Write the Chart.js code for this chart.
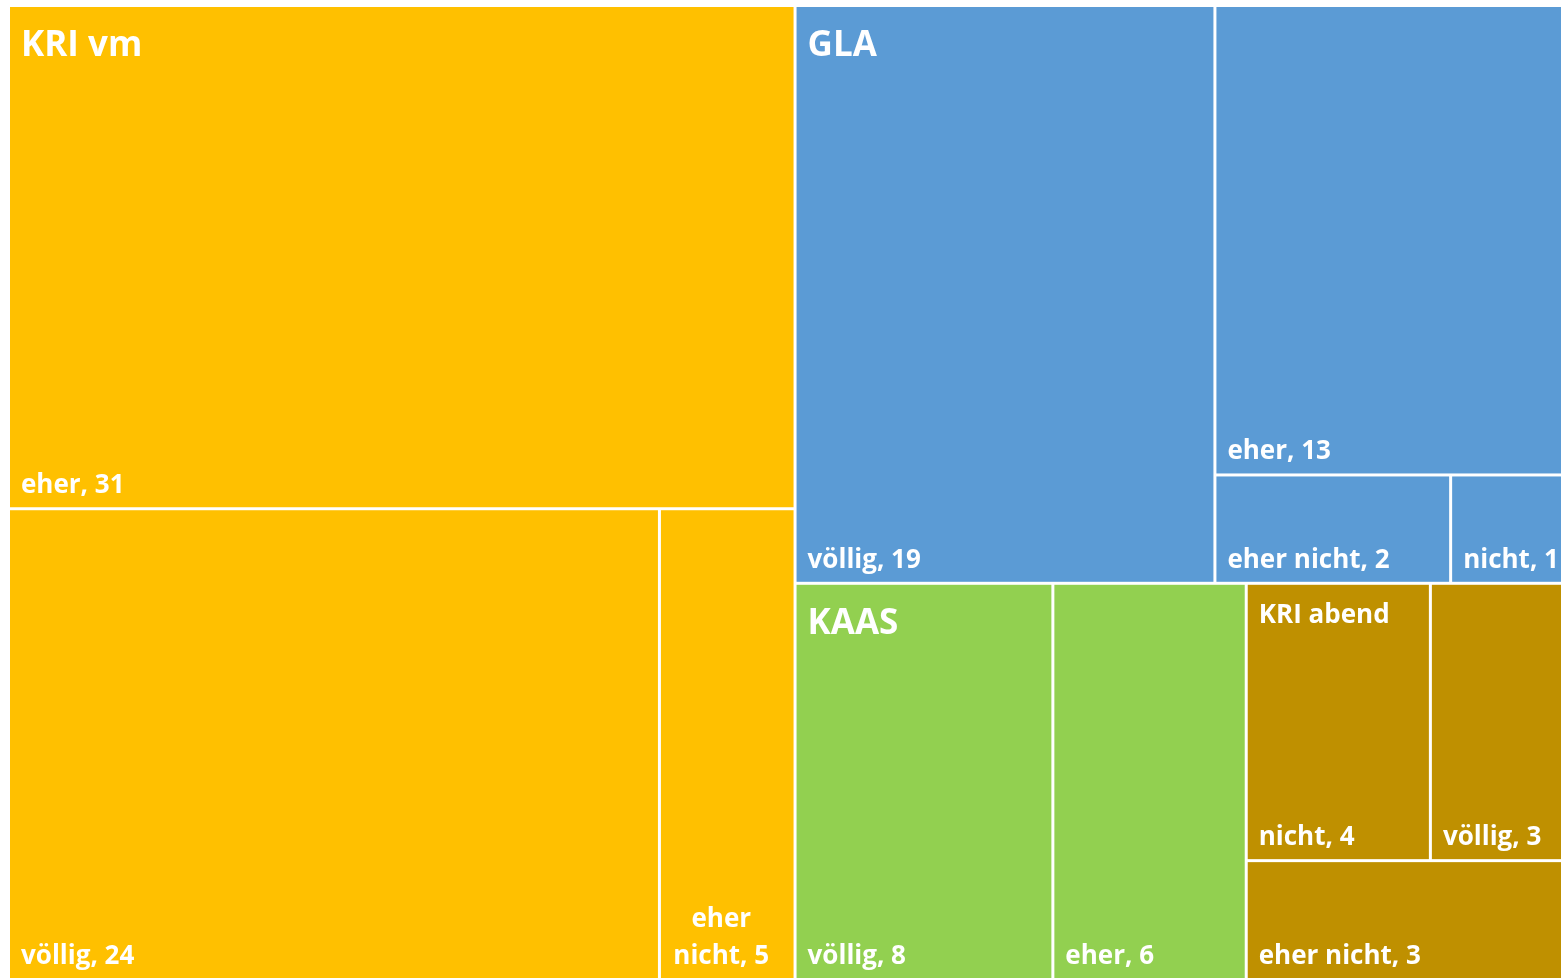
<!DOCTYPE html>
<html>
<head>
<meta charset="utf-8">
<script src="https://cdn.jsdelivr.net/npm/chart.js@4.4.1/dist/chart.umd.min.js"></script>
<style>
  html, body { margin: 0; padding: 0; background: #fff; overflow: hidden; }
  #wrap { position: absolute; left: 0; top: 0; width: 1580px; height: 990px; }
</style>
</head>
<body>
<div id="wrap"><canvas id="TreeChart"></canvas></div>
<script>
// Daten aus dem Bild
const groupNames  = ['KRI vm', 'GLA', 'KAAS', 'KRI abend'];
const groupColors = ['#FFC000', '#5B9BD5', '#92D050', '#BF9000'];
const leafGroup   = ['KRI vm', 'KRI vm', 'KRI vm', 'GLA', 'GLA', 'GLA', 'GLA', 'KAAS', 'KAAS', 'KRI abend', 'KRI abend', 'KRI abend'];
const leafAnswer  = ['eher', 'völlig', 'eher nicht', 'völlig', 'eher', 'eher nicht', 'nicht', 'völlig', 'eher', 'nicht', 'völlig', 'eher nicht'];
const leafValues  = [31, 24, 5, 19, 13, 2, 1, 8, 6, 4, 3, 3];

const FONT = '"Open Sans", Lato, sans-serif';

// squarified treemap in einem Rechteck (einheiten: frei)
function squarify(values, x, y, w, h) {
  const total = values.reduce((a, b) => a + b, 0);
  const areas = values.map(v => v * w * h / total);
  const out = [];
  let row = [];
  const worst = (r, side) => {
    const s = r.reduce((a, b) => a + b, 0);
    const mx = Math.max(...r), mn = Math.min(...r);
    return Math.max(side * side * mx / (s * s), (s * s) / (side * side * mn));
  };
  const place = (r) => {
    const s = r.reduce((a, b) => a + b, 0);
    if (w >= h) {
      const cw = s / h;
      let cy = y;
      r.forEach(a => { const ch = a / cw; out.push({ x: x, y: cy, w: cw, h: ch }); cy += ch; });
      x += cw; w -= cw;
    } else {
      const rh = s / w;
      let cx = x;
      r.forEach(a => { const rw = a / rh; out.push({ x: cx, y: y, w: rw, h: rh }); cx += rw; });
      y += rh; h -= rh;
    }
  };
  let i = 0;
  while (i < areas.length) {
    const side = Math.min(w, h);
    if (row.length === 0 || worst(row.concat([areas[i]]), side) <= worst(row, side)) {
      row.push(areas[i]); i++;
    } else {
      place(row); row = [];
    }
  }
  if (row.length) place(row);
  return out;
}

const treemapPlugin = {
  id: 'treemap',
  afterDatasetsDraw(chart) {
    const ctx = chart.ctx;
    const xs = chart.scales.x, ys = chart.scales.y;
    const area = chart.chartArea;
    const aspect = (area.right - area.left) / (area.bottom - area.top);

    // gruppen sortiert nach summe
    const groups = groupNames.map((g, gi) => {
      const idx = leafGroup.map((lg, i) => lg === g ? i : -1).filter(i => i >= 0)
        .sort((a, b) => leafValues[b] - leafValues[a]);
      return { name: g, color: groupColors[gi], idx: idx, sum: idx.reduce((s, i) => s + leafValues[i], 0) };
    }).sort((a, b) => b.sum - a.sum);

    const grand = groups.reduce((s, g) => s + g.sum, 0);
    const gRects = squarify(groups.map(g => g.sum), 0, 0, aspect, 1);

    const px = u => xs.getPixelForValue(u / aspect);
    const py = v => ys.getPixelForValue(v);
    const gap = 1.5;

    groups.forEach((g, gi) => {
      const gr = gRects[gi];
      const lRects = squarify(g.idx.map(i => leafValues[i]), gr.x, gr.y, gr.w, gr.h);
      g.idx.forEach((li, k) => {
        const r = lRects[k];
        const x0 = px(r.x) + gap, x1 = px(r.x + r.w) - gap;
        const y0 = py(r.y) + gap, y1 = py(r.y + r.h) - gap;
        ctx.fillStyle = g.color;
        ctx.fillRect(x0, y0, x1 - x0, y1 - y0);

        // beschriftung unten links
        const txt = leafAnswer[li] + ', ' + leafValues[li];
        ctx.save();
        ctx.beginPath();
        ctx.rect(x0, y0, x1 - x0, y1 - y0);
        ctx.clip();
        ctx.fillStyle = '#fff';
        ctx.font = 'bold 26px ' + FONT;
        ctx.textBaseline = 'alphabetic';
        const pad = 11;
        const maxW = x1 - x0 - 8;
        if (ctx.measureText(txt).width <= maxW) {
          ctx.textAlign = 'left';
          ctx.fillText(txt, x0 + pad, y1 - 14);
        } else {
          const words = txt.split(' ');
          const lines = [];
          let cur = '';
          words.forEach(wd => {
            const t = cur ? cur + ' ' + wd : wd;
            if (cur && ctx.measureText(t).width > maxW) { lines.push(cur); cur = wd; } else { cur = t; }
          });
          lines.push(cur);
          ctx.textAlign = 'center';
          const cx = (x0 + x1) / 2 - 6;
          lines.forEach((ln, j) => {
            ctx.fillText(ln, cx, y1 - 14 - (lines.length - 1 - j) * 37);
          });
        }
        ctx.restore();
      });

      // gruppenname oben links
      const gx0 = px(gr.x) + gap, gy0 = py(gr.y) + gap;
      const big = g.sum / grand > 0.1;
      ctx.fillStyle = '#fff';
      ctx.textAlign = 'left';
      ctx.textBaseline = 'alphabetic';
      ctx.font = 'bold ' + (big ? 35 : 26) + 'px ' + FONT;
      ctx.fillText(g.name, gx0 + 11, gy0 + (big ? 49 : 38));
    });
  }
};

const ctx = document.getElementById('TreeChart').getContext('2d');

const config = {
  type: 'scatter',
  data: {
    datasets: [{
      label: 'Treemap',
      data: leafValues.map(() => ({ x: 0, y: 0 })),
      pointRadius: 0,
      pointHoverRadius: 0
    }]
  },
  options: {
    responsive: true,
    maintainAspectRatio: false,
    animation: false,
    events: [],
    plugins: {
      legend: { display: false },
      tooltip: { enabled: false }
    },
    scales: {
      x: { display: false, min: 0, max: 1 },
      y: { display: false, min: 0, max: 1, reverse: true }
    },
    layout: {
      padding: { left: 8.5, top: 5.5, right: 11.5, bottom: 10.5 }
    }
  },
  plugins: [treemapPlugin]
};

const treeChart = new Chart(ctx, config);
</script>
</body>
</html>
